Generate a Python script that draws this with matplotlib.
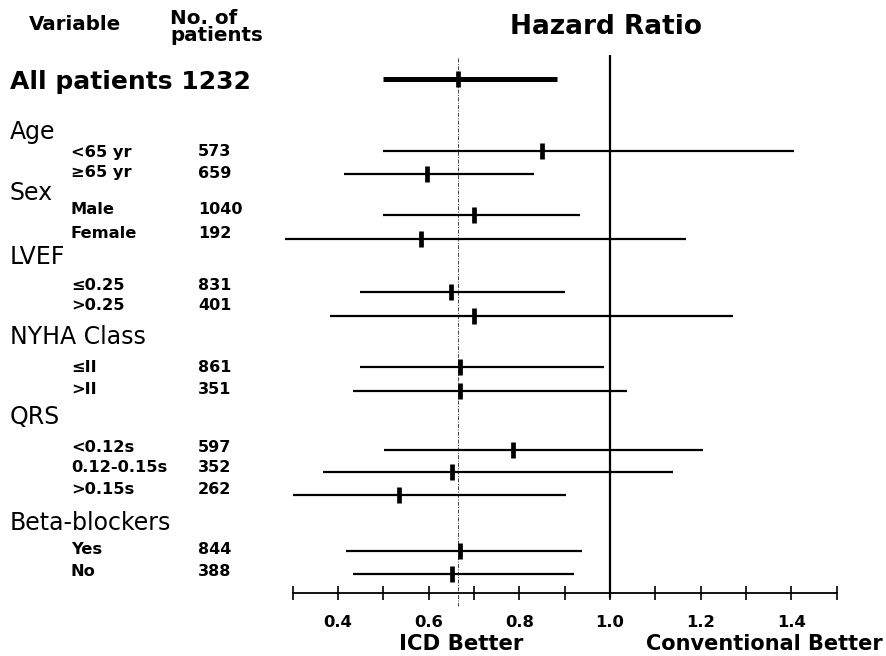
import matplotlib
matplotlib.use("Agg")
import matplotlib.pyplot as plt
from matplotlib.ticker import FixedLocator, NullFormatter, FixedFormatter

# ---------------- data ----------------
row_labels = ["All patients", "<65 yr", "\u226565 yr", "Male", "Female",
              "\u22640.25", ">0.25", "\u2264II", ">II",
              "<0.12s", "0.12-0.15s", ">0.15s", "Yes", "No"]
n_patients = [1232, 573, 659, 1040, 192, 831, 401, 861, 351, 597, 352, 262, 844, 388]
hazard_ratio = [0.665, 0.850, 0.597, 0.700, 0.583, 0.650, 0.701, 0.668, 0.668,
                0.785, 0.652, 0.535, 0.670, 0.652]
ci_low = [0.499, 0.499, 0.414, 0.500, 0.282, 0.449, 0.383, 0.449, 0.434,
          0.501, 0.367, 0.301, 0.418, 0.434]
ci_high = [0.882, 1.406, 0.833, 0.934, 1.168, 0.901, 1.272, 0.987, 1.037,
           1.205, 1.140, 0.904, 0.938, 0.921]
group_labels = ["Age", "Sex", "LVEF", "NYHA Class", "QRS", "Beta-blockers"]
major_ticks = [0.4, 0.6, 0.8, 1.0, 1.2, 1.4]
minor_ticks = [0.3, 0.5, 0.7, 0.9, 1.1, 1.3, 1.5]
tick_labels = ["0.4", "0.6", "0.8", "1.0", "1.2", "1.4"]

# ---------------- layout (pixel rows, top = 0) ----------------
W, H = 886, 656
label_y = [82, 152, 173, 210, 233, 286, 306, 368, 389, 447, 468, 489, 550, 572]
bar_y = [79, 151, 174, 215, 239, 292, 316, 367, 391, 450, 472, 495, 551, 574]
group_y = [132, 193, 257, 337, 417, 523]
axis_y = 592.7

# HR -> pixel mapping: 0.3 at 292.7 px, 1.0 at 610 px
px_per_unit = (610 - 292.7) / 0.7
x_left = 0.3 - 292.7 / px_per_unit
x_right = 1.0 + (W - 610) / px_per_unit

fig = plt.figure(figsize=(W / 100, H / 100), dpi=100)
ax = fig.add_axes([0, 0, 1, 1])
ax.set_xlim(x_left, x_right)
ax.set_ylim(H, 0)
ax.patch.set_alpha(0)
for s in ["left", "right", "top"]:
    ax.spines[s].set_visible(False)
ax.spines["bottom"].set_position(("data", axis_y))
ax.spines["bottom"].set_bounds(0.3, 1.5)
ax.spines["bottom"].set_linewidth(1.3)
ax.yaxis.set_visible(False)
ax.xaxis.set_major_locator(FixedLocator(major_ticks))
ax.xaxis.set_major_formatter(FixedFormatter(tick_labels))
ax.xaxis.set_minor_locator(FixedLocator(minor_ticks))
ax.xaxis.set_minor_formatter(NullFormatter())
ax.tick_params(axis="x", which="both", direction="inout", length=10, width=1.2,
               color="black")
ax.tick_params(axis="x", which="major", pad=11, labelsize=11.8)
for lab in ax.get_xticklabels():
    lab.set_fontweight("bold")

# reference lines
ax.plot([1.0, 1.0], [55, 598], color="black", lw=1.6, solid_capstyle="butt")
ax.plot([hazard_ratio[0]] * 2, [58, 606], color="#444444", lw=0.7,
        linestyle=(0, (4, 1.5, 1, 1.5)))

# CI bars and point estimates
for i in range(len(row_labels)):
    lw = 3.6 if i == 0 else 1.6
    ax.plot([ci_low[i], ci_high[i]], [bar_y[i], bar_y[i]], color="black", lw=lw,
            solid_capstyle="butt")
    ax.plot(hazard_ratio[i], bar_y[i], marker="|", color="black",
            markersize=11.5, markeredgewidth=3.4)

# ---------------- text overlay ----------------
tx = fig.add_axes([0, 0, 1, 1])
tx.set_xlim(0, W)
tx.set_ylim(H, 0)
tx.axis("off")
tx.patch.set_alpha(0)

tx.text(75, 25, "Variable", ha="center", va="center", fontsize=14.3, fontweight="bold")
tx.text(170, 27, "No. of\npatients", ha="left", va="center", fontsize=14.3,
        fontweight="bold", linespacing=0.85)
tx.text(606, 27, "Hazard Ratio", ha="center", va="center", fontsize=19, fontweight="bold")

tx.text(10, label_y[0], f"{row_labels[0]} {n_patients[0]}", ha="left", va="center",
        fontsize=18, fontweight="bold")
for g, gy in zip(group_labels, group_y):
    tx.text(10, gy, g, ha="left", va="center", fontsize=17)
for i in range(1, len(row_labels)):
    tx.text(71, label_y[i], row_labels[i], ha="left", va="center", fontsize=11.7,
            fontweight="bold")
    tx.text(198, label_y[i], str(n_patients[i]), ha="left", va="center", fontsize=11.5,
            fontweight="bold")

tx.text(461, 644, "ICD Better", ha="center", va="center", fontsize=15.3, fontweight="bold")
tx.text(883, 644, "Conventional Better", ha="right", va="center", fontsize=15,
        fontweight="bold")

fig.savefig("out.png", dpi=100)
